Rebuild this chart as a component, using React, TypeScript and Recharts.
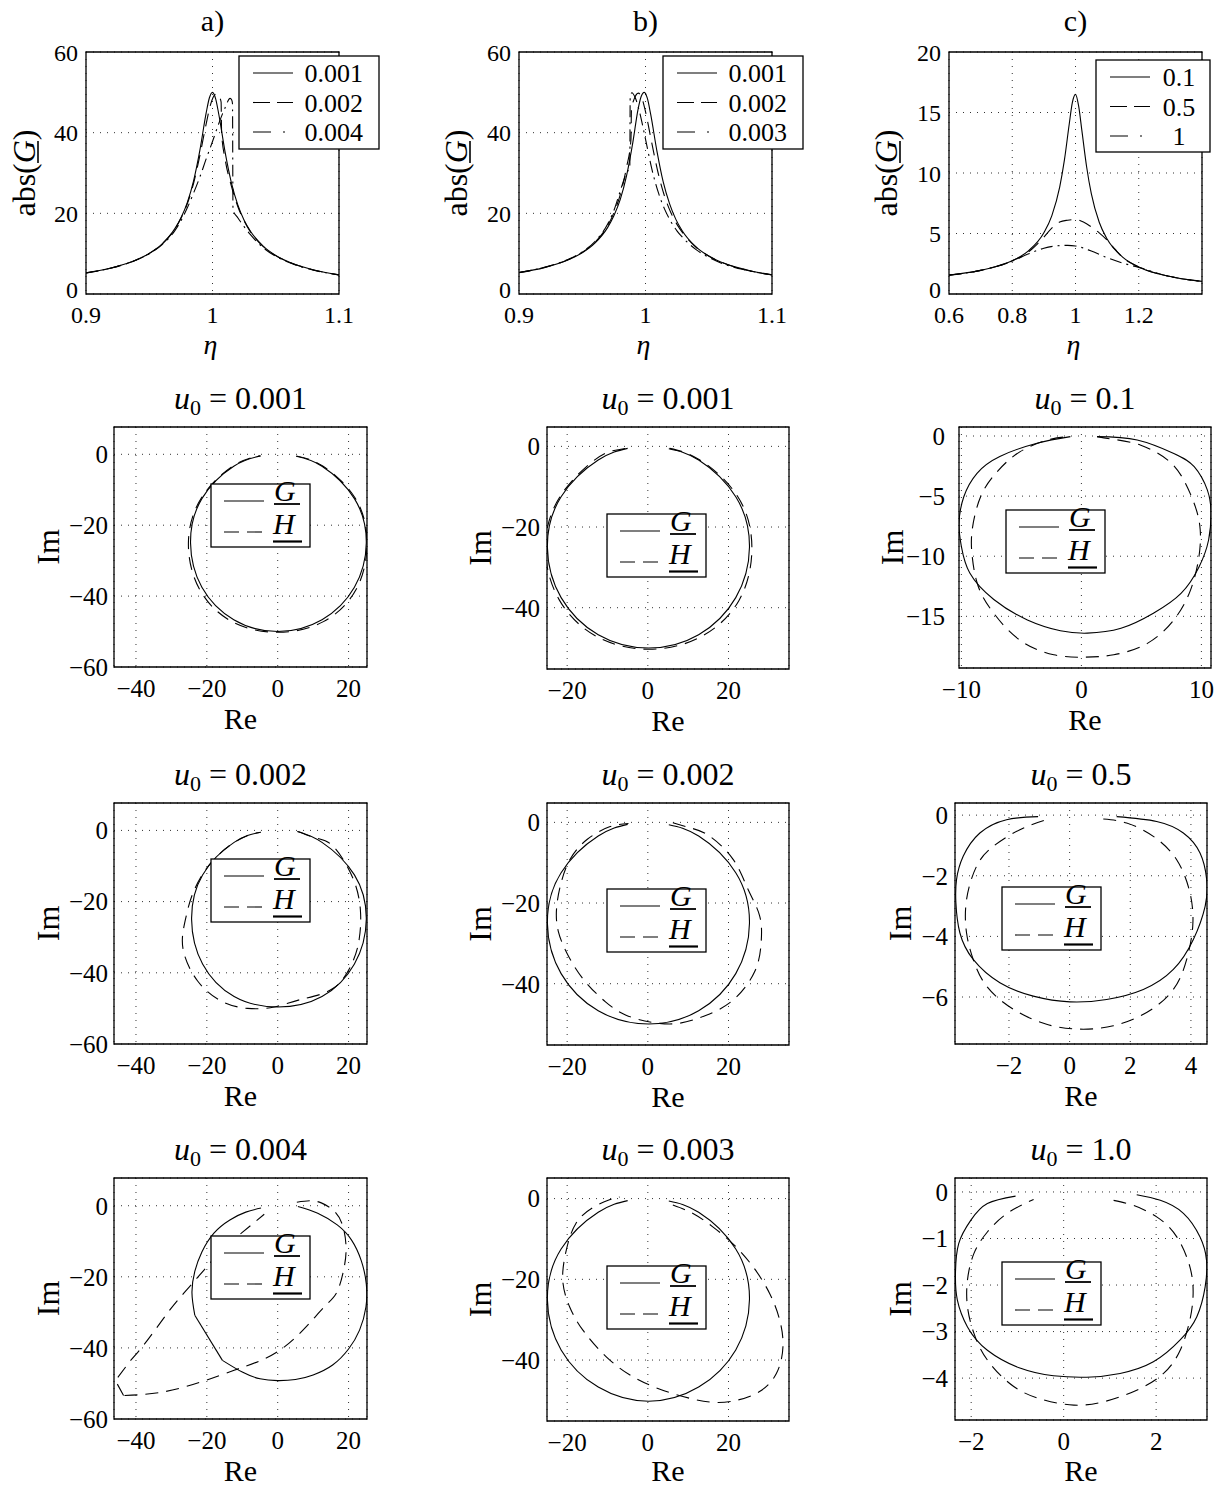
import React from 'react';
import { LineChart, Line, XAxis, YAxis, CartesianGrid, ReferenceArea } from 'recharts';

type Pt = [number, number];
type CurveKind = 'natural' | 'monotone' | 'linear';

/* ---------- amplitude response abs(G) over eta ---------- */
// column a: u0 = 0.001 / 0.002 / 0.004
const absA_001: Pt[] = [[0.9,5.24],[0.92,6.46],[0.94,8.48],[0.95,10.07],[0.96,12.39],[0.97,16.08],[0.975,18.84],[0.98,22.6],[0.985,28.0],[0.99,35.6],[0.995,44.9],[0.9975,48.6],[1.0,50.0],[1.0025,48.4],[1.005,44.5],[1.01,35.1],[1.015,27.5],[1.02,22.1],[1.025,18.3],[1.03,15.55],[1.04,11.87],[1.05,9.56],[1.06,7.97],[1.08,5.96],[1.1,4.74]];
const absA_002: Pt[] = [[0.9,5.24],[0.92,6.46],[0.94,8.47],[0.95,10.05],[0.96,12.35],[0.97,15.98],[0.975,18.7],[0.98,22.3],[0.985,27.4],[0.99,34.3],[0.995,42.2],[0.9985,47.0],[1.0015,49.3],[1.0035,49.7],[1.0055,48.8],[1.0068,47.6],[1.0072,39.8],[1.01,33.4],[1.015,26.7],[1.02,21.7],[1.025,18.1],[1.03,15.4],[1.04,11.8],[1.05,9.52],[1.06,7.95],[1.08,5.95],[1.1,4.74]];
const absA_004: Pt[] = [[0.9,5.23],[0.92,6.44],[0.94,8.43],[0.95,9.98],[0.96,12.2],[0.97,15.6],[0.975,18.1],[0.98,21.3],[0.985,25.0],[0.99,29.0],[0.995,33.5],[1.0,37.8],[1.005,42.3],[1.01,46.2],[1.0139,48.5],[1.0152,48.1],[1.0158,47.2],[1.0162,20.9],[1.02,18.9],[1.025,16.7],[1.03,14.7],[1.04,11.5],[1.05,9.35],[1.06,7.85],[1.08,5.9],[1.1,4.72]];
// column b: u0 = 0.001 / 0.002 / 0.003
const absB_001: Pt[] = [[0.9,5.3],[0.92,6.54],[0.94,8.6],[0.95,10.23],[0.96,12.62],[0.97,16.46],[0.975,19.4],[0.98,23.4],[0.985,29.3],[0.99,37.6],[0.994,45.6],[0.9965,48.9],[0.999,50.0],[1.0015,48.5],[1.004,44.7],[1.009,35.5],[1.014,27.8],[1.019,22.4],[1.024,18.5],[1.029,15.7],[1.039,11.95],[1.049,9.6],[1.059,8.0],[1.08,5.97],[1.1,4.75]];
const absB_002: Pt[] = [[0.9,5.32],[0.92,6.58],[0.94,8.67],[0.95,10.33],[0.96,12.8],[0.97,16.9],[0.975,20.1],[0.98,24.6],[0.985,31.4],[0.9885,38.3],[0.9889,45.6],[0.991,48.3],[0.9944,49.8],[0.997,48.7],[1.0,45.2],[1.005,37.4],[1.01,30.0],[1.015,24.3],[1.02,20.2],[1.025,17.2],[1.03,14.9],[1.04,11.6],[1.05,9.4],[1.06,7.87],[1.08,5.92],[1.1,4.73]];
const absB_003: Pt[] = [[0.9,5.34],[0.92,6.62],[0.94,8.75],[0.95,10.45],[0.96,13.0],[0.97,17.3],[0.975,20.7],[0.98,25.5],[0.985,30.0],[0.9876,31.5],[0.9879,48.8],[0.9892,49.9],[0.992,48.6],[0.995,45.5],[1.0,38.4],[1.005,31.0],[1.01,25.3],[1.015,21.1],[1.02,18.0],[1.025,15.6],[1.03,13.8],[1.04,11.0],[1.05,9.1],[1.06,7.65],[1.08,5.87],[1.1,4.71]];
// column c: u0 = 0.1 / 0.5 / 1
const absC_01: Pt[] = [[0.6,1.56],[0.7,1.95],[0.75,2.27],[0.8,2.75],[0.85,3.54],[0.9,5.06],[0.925,6.46],[0.95,8.83],[0.965,11.08],[0.98,14.01],[0.99,15.82],[1.0,16.5],[1.01,15.52],[1.02,13.54],[1.035,10.54],[1.05,8.29],[1.075,5.93],[1.1,4.54],[1.15,3.03],[1.2,2.24],[1.3,1.44],[1.4,1.04]];
const absC_05: Pt[] = [[0.6,1.56],[0.7,1.95],[0.8,2.74],[0.85,3.45],[0.88,4.15],[0.9,4.7],[0.925,5.45],[0.95,5.95],[0.975,6.1],[1.0,6.15],[1.025,5.95],[1.05,5.55],[1.075,5.05],[1.1,4.45],[1.125,3.7],[1.15,3.0],[1.2,2.24],[1.3,1.44],[1.4,1.04]];
const absC_1: Pt[] = [[0.6,1.56],[0.7,1.95],[0.8,2.72],[0.85,3.3],[0.9,3.78],[0.95,4.0],[0.975,4.02],[1.0,3.97],[1.05,3.55],[1.1,3.0],[1.15,2.55],[1.2,2.2],[1.3,1.43],[1.4,1.04]];

const legendA = ['0.001', '0.002', '0.004'];
const legendB = ['0.001', '0.002', '0.003'];
const legendC = ['0.1', '0.5', '1'];

/* ---------- Nyquist loci (Re, Im) of G and H ---------- */
// column a
const gA1: Pt[] = [[5.2,-0.55],[12.5,-3.35],[21.65,-12.5],[25,-25],[21.65,-37.5],[12.5,-46.65],[0,-50],[-12.4,-46.65],[-21.4,-37.5],[-24.6,-25],[-21.4,-12.5],[-12.4,-3.35],[-4.77,-0.45]];
const hA1: Pt[] = [[5.3,-0.5],[12.7,-3.3],[21.9,-12.4],[25.2,-25],[22.2,-38.0],[12.9,-47.2],[0,-50.2],[-12.9,-47.2],[-22.1,-38.0],[-25.2,-25],[-21.6,-12.4],[-12.6,-3.3],[-5.0,-0.4]];
const gA2: Pt[] = [[5.5,-0.3],[12.5,-3.35],[21.65,-12.5],[25,-25],[21.65,-37.5],[12.5,-46.65],[0,-49.6],[-12.3,-46.65],[-21.2,-37.5],[-24.3,-25],[-21.2,-12.5],[-12.3,-3.35],[-4.8,-0.5]];
const hA2: Pt[] = [[5.8,-0.3],[11.0,-2.2],[15.9,-4.7],[21.5,-14.1],[23.4,-23.5],[23.0,-30.5],[21.3,-36.6],[15.9,-44.2],[6.5,-47.5],[-1.0,-49.6],[-8.5,-50.0],[-16.0,-47.9],[-22.6,-42.3],[-26.4,-34.7],[-26.8,-29.1],[-25.9,-24.4],[-24.0,-17.8],[-19.8,-10.3],[-14.0,-4.6],[-8.5,-1.4],[-4.8,-0.5]];
const gA3a: Pt[] = [[5.7,-0.2],[11.3,-2.1],[16.8,-5.4],[20.8,-9.6],[23.6,-15.5],[25.0,-22.0],[24.9,-28.5],[23.1,-35.0],[20.0,-40.3],[15.5,-44.8],[10.0,-47.6],[5.0,-48.9],[0.0,-49.2],[-5.0,-48.7],[-10.0,-46.8],[-15.6,-43.5]];
const gA3b: Pt[] = [[-15.6,-43.5],[-23.4,-30.8]];
const gA3c: Pt[] = [[-23.4,-30.8],[-24.2,-24.5],[-23.4,-18.5],[-21.4,-13.0],[-18.0,-7.7],[-13.5,-4.0],[-9.0,-1.8],[-4.7,-0.65]];
const hA3a: Pt[] = [[5.4,1.0],[9.0,1.4],[12.3,0.8],[16.0,-1.6],[18.4,-5.8],[19.3,-12.4],[18.4,-19.0],[16.5,-24.7],[13.2,-28.4],[8.0,-34.1],[1.9,-39.7],[-4.7,-43.5],[-12.3,-46.3],[-21.7,-49.6],[-33.0,-52.5],[-43.5,-53.4]];
const hA3b: Pt[] = [[-43.5,-53.4],[-45.8,-49.2],[-41.5,-43.5]];
const hA3c: Pt[] = [[-41.5,-43.5],[-36.8,-37.9],[-31.2,-30.3],[-26.5,-24.6],[-20.8,-18.1],[-15.5,-12.2],[-10.0,-7.5],[-3.8,-2.4]];
// column b
const gB1: Pt[] = [[5.2,-0.6],[12.6,-3.4],[21.8,-12.5],[25.2,-25],[21.8,-37.5],[12.6,-46.7],[0.2,-50],[-12.3,-46.7],[-21.5,-37.5],[-24.9,-25],[-21.5,-12.5],[-12.3,-3.4],[-5.0,-0.5]];
const hB1: Pt[] = [[5.4,-0.5],[12.8,-3.3],[22.2,-12.3],[25.8,-25],[22.6,-38.2],[13.0,-47.3],[0.2,-50.3],[-12.6,-47.2],[-22.0,-38.0],[-25.4,-25],[-21.8,-12.5],[-13.5,-3.6],[-8.7,-1.1],[-4.8,-0.4]];
const gB2: Pt[] = [[5.2,-0.6],[12.6,-3.4],[21.8,-12.5],[25.2,-25],[21.8,-37.5],[12.6,-46.7],[0.2,-50],[-12.3,-46.7],[-21.5,-37.5],[-24.9,-25],[-21.5,-12.5],[-12.3,-3.4],[-5.0,-0.5]];
const hB2: Pt[] = [[6.2,-0.1],[11.0,-1.5],[15.3,-3.4],[21.1,-9.1],[24.8,-16.5],[27.7,-23.1],[28.1,-29.7],[26.5,-37.0],[21.1,-44.1],[14.5,-47.8],[7.9,-49.8],[1.2,-49.6],[-5.4,-47.8],[-10.5,-44.5],[-15.5,-39.5],[-19.5,-33.5],[-22.2,-27.0],[-22.6,-21.0],[-21.5,-15.0],[-19.2,-9.0],[-15.0,-4.2],[-9.5,-1.1],[-4.8,-0.3]];
const gB3: Pt[] = [[5.2,-0.6],[12.6,-3.4],[21.8,-12.5],[25.2,-25],[21.8,-37.5],[12.6,-46.7],[0.2,-50.2],[-12.3,-46.7],[-21.5,-37.5],[-24.9,-25],[-21.5,-12.5],[-12.3,-3.4],[-5.0,-0.5]];
const hB3: Pt[] = [[6.2,-1.6],[11.2,-3.7],[16.1,-7.0],[21.1,-11.2],[26.1,-16.9],[30.2,-23.5],[32.7,-30.1],[33.5,-36.7],[31.9,-43.3],[27.7,-47.8],[21.9,-50.0],[15.3,-50.4],[6.2,-48.3],[-2.9,-44.6],[-10.3,-39.2],[-16.1,-32.6],[-19.4,-26.8],[-21.1,-20.2],[-20.2,-12.7],[-17.8,-6.1],[-13.6,-2.2],[-9.5,-0.3],[-7.0,0.4]];
// column c
const gC1: Pt[] = [[1.3,-0.05],[4.65,-0.33],[7.7,-1.45],[9.4,-2.55],[10.5,-4.5],[10.8,-6.4],[10.6,-8.65],[9.8,-10.9],[8.3,-13.1],[6.0,-14.75],[3.3,-16.0],[0.5,-16.4],[-1.75,-16.2],[-4.5,-15.3],[-7.3,-13.6],[-9.3,-11.4],[-10.0,-9.2],[-10.2,-7.3],[-9.8,-5.05],[-8.7,-3.1],[-6.8,-1.7],[-3.7,-0.6],[-0.92,-0.05]];
const hC1: Pt[] = [[1.3,-0.05],[2.7,-0.28],[4.9,-0.75],[7.2,-2.0],[8.55,-3.7],[9.5,-5.9],[9.9,-7.8],[9.8,-10.0],[9.1,-12.8],[7.7,-15.3],[5.5,-17.25],[2.7,-18.2],[0.2,-18.4],[-2.3,-18.2],[-5.1,-17.0],[-7.3,-14.75],[-8.6,-12.5],[-9.1,-10.0],[-9.1,-7.8],[-8.4,-5.05],[-7.05,-3.0],[-5.1,-1.3],[-2.6,-0.28],[-0.9,-0.05]];
const gC2: Pt[] = [[1.55,-0.05],[2.87,-0.21],[3.75,-0.59],[4.3,-1.25],[4.52,-2.13],[4.47,-3.0],[4.08,-4.1],[3.42,-5.09],[2.43,-5.75],[1.22,-6.08],[0.01,-6.16],[-1.2,-5.97],[-2.3,-5.53],[-3.18,-4.76],[-3.62,-3.88],[-3.75,-2.9],[-3.73,-2.13],[-3.51,-1.36],[-2.96,-0.59],[-2.08,-0.15],[-1.04,-0.05]];
const hC2: Pt[] = [[1.11,-0.13],[1.88,-0.26],[2.76,-0.7],[3.53,-1.47],[3.97,-2.57],[4.06,-3.66],[3.86,-4.76],[3.42,-5.75],[2.54,-6.51],[1.44,-6.95],[0.34,-7.06],[-0.76,-6.9],[-1.86,-6.4],[-2.74,-5.64],[-3.18,-4.76],[-3.4,-3.88],[-3.4,-2.79],[-3.07,-1.69],[-2.52,-1.03],[-1.64,-0.48],[-0.76,-0.15]];
const gC3: Pt[] = [[1.58,-0.06],[2.09,-0.18],[2.59,-0.46],[2.95,-0.97],[3.09,-1.47],[3.06,-2.04],[2.88,-2.68],[2.52,-3.18],[1.94,-3.65],[1.22,-3.9],[0.5,-3.98],[-0.22,-3.95],[-0.93,-3.79],[-1.65,-3.4],[-2.08,-2.9],[-2.3,-2.32],[-2.34,-1.75],[-2.27,-1.11],[-2.01,-0.61],[-1.65,-0.25],[-1.04,-0.09]];
const hC3: Pt[] = [[1.08,-0.18],[1.51,-0.29],[2.02,-0.54],[2.45,-0.97],[2.73,-1.61],[2.8,-2.18],[2.73,-2.75],[2.52,-3.4],[2.16,-3.9],[1.58,-4.26],[0.86,-4.51],[0.22,-4.58],[-0.43,-4.47],[-1.08,-4.18],[-1.65,-3.61],[-1.94,-3.04],[-2.08,-2.47],[-2.08,-1.89],[-1.94,-1.32],[-1.65,-0.86],[-1.22,-0.46],[-0.65,-0.16]];

/* ---------- ticks and titles ---------- */
const etaTicksAB = [0.9, 1, 1.1];
const absTicksAB = [0, 20, 40, 60];
const etaTicksC = [0.6, 0.8, 1, 1.2];
const absTicksC = [0, 5, 10, 15, 20];
const reTicksA = [-40, -20, 0, 20];
const imTicksA = [-60, -40, -20, 0];
const reTicksB = [-20, 0, 20];
const imTicksB = [-40, -20, 0];
const reTicksC1 = [-10, 0, 10];
const imTicksC1 = [-15, -10, -5, 0];
const reTicksC2 = [-2, 0, 2, 4];
const imTicksC2 = [-6, -4, -2, 0];
const reTicksC3 = [-2, 0, 2];
const imTicksC3 = [-4, -3, -2, -1, 0];
const u0Labels = ['0.001', '0.001', '0.1', '0.002', '0.002', '0.5', '0.004', '0.003', '1.0'];

/* ---------- styling ---------- */
const SERIF = '"Liberation Serif", "Times New Roman", serif';
const DASH = '13 8';
const DASHDOT = '12 5 2 5';
const fmt = (v: number) => (v < 0 ? '\u2212' + String(Math.abs(v)) : String(v));
const rows = (pts: Pt[]) => pts.map(([x, y]) => ({ x, y }));

interface Series { pts: Pt[]; dash?: string; curve?: CurveKind }
interface PanelSpec {
  frame: [number, number, number, number];
  xDomain: [number, number];
  yDomain: [number, number];
  xTicks: number[];
  yTicks: number[];
  series: Series[];
  xGap: number;
  yGap: number;
  tickSize: number;
  liftLowest?: boolean;
}

// y tick label; the lowest label can be lifted a little so it clears the first x label
function YTick(props: any) {
  const { x, y, payload, fontSize, lift } = props;
  const v = payload.value as number;
  const shift = lift !== undefined && v === lift ? -5 : 0;
  return (
    <text x={x} y={y + shift} dy="0.355em" textAnchor="end" fontSize={fontSize} fontFamily={SERIF} fill="#000">
      {fmt(v)}
    </text>
  );
}

const PL = 90, PR = 30, PT = 12, PB = 56;

function Panel({ spec }: { spec: PanelSpec }) {
  const [fx, fy, fw, fh] = spec.frame;
  const tickStyle = { fontSize: spec.tickSize, fill: '#000', fontFamily: SERIF };
  const lift = spec.liftLowest ? spec.yDomain[0] : undefined;
  return (
    <div style={{ position: 'absolute', left: fx - PL, top: fy - PT }}>
      <LineChart width={fw + PL + PR} height={fh + PT + PB} margin={{ top: PT, right: PR, bottom: 0, left: 0 }}>
        <CartesianGrid stroke="#333" strokeWidth={1} strokeDasharray="1 6" />
        <XAxis type="number" dataKey="x" domain={spec.xDomain} ticks={spec.xTicks} allowDataOverflow interval={0}
          height={PB} axisLine={false} tickLine={false} tickSize={6} tickMargin={spec.xGap} tick={tickStyle} tickFormatter={fmt} />
        <YAxis type="number" domain={spec.yDomain} ticks={spec.yTicks} allowDataOverflow interval={0}
          width={PL} axisLine={false} tickLine={false} tickSize={6} tickMargin={spec.yGap}
          tick={(p: any) => <YTick {...p} fontSize={spec.tickSize} lift={lift} />} />
        {spec.series.map((s, i) => (
          <Line key={i} data={rows(s.pts)} dataKey="y" type={s.curve ?? 'natural'} stroke="#000" strokeWidth={1.1}
            strokeDasharray={s.dash} dot={false} activeDot={false} isAnimationActive={false} />
        ))}
        <ReferenceArea x1={spec.xDomain[0]} x2={spec.xDomain[1]} y1={spec.yDomain[0]} y2={spec.yDomain[1]}
          fill="none" fillOpacity={0} stroke="#000" strokeWidth={1.3} ifOverflow="visible" />
      </LineChart>
    </div>
  );
}

const ampPanels: PanelSpec[] = [
  { frame: [86, 52, 253, 242], xDomain: [0.9, 1.1], yDomain: [0, 60], xTicks: etaTicksAB, yTicks: absTicksAB, xGap: 6, yGap: 2, tickSize: 24, liftLowest: true,
    series: [{ pts: absA_001, curve: 'monotone' }, { pts: absA_002, dash: DASH, curve: 'monotone' }, { pts: absA_004, dash: DASHDOT, curve: 'monotone' }] },
  { frame: [519, 52, 253, 242], xDomain: [0.9, 1.1], yDomain: [0, 60], xTicks: etaTicksAB, yTicks: absTicksAB, xGap: 6, yGap: 2, tickSize: 24, liftLowest: true,
    series: [{ pts: absB_001, curve: 'monotone' }, { pts: absB_002, dash: DASH, curve: 'monotone' }, { pts: absB_003, dash: DASHDOT, curve: 'monotone' }] },
  { frame: [949, 52, 253, 242], xDomain: [0.6, 1.4], yDomain: [0, 20], xTicks: etaTicksC, yTicks: absTicksC, xGap: 6, yGap: 2, tickSize: 24, liftLowest: true,
    series: [{ pts: absC_01, curve: 'monotone' }, { pts: absC_05, dash: DASH, curve: 'monotone' }, { pts: absC_1, dash: DASHDOT, curve: 'monotone' }] },
];

const nyqPanels: (PanelSpec & { imX: number })[] = [
  { frame: [114, 427, 253, 240], xDomain: [-46.2, 25.2], yDomain: [-60, 7.7], xTicks: reTicksA, yTicks: imTicksA, xGap: 6, yGap: 0, tickSize: 25, imX: 59,
    series: [{ pts: gA1 }, { pts: hA1, dash: DASH }] },
  { frame: [547, 427, 242, 242], xDomain: [-25, 35], yDomain: [-55.2, 4.8], xTicks: reTicksB, yTicks: imTicksB, xGap: 6, yGap: 1, tickSize: 25, imX: 491,
    series: [{ pts: gB1 }, { pts: hB1, dash: DASH }] },
  { frame: [959, 427, 252, 241], xDomain: [-10.2, 10.8], yDomain: [-19.3, 0.75], xTicks: reTicksC1, yTicks: imTicksC1, xGap: 6, yGap: 8, tickSize: 25, imX: 903,
    series: [{ pts: gC1 }, { pts: hC1, dash: DASH }] },
  { frame: [114, 803, 253, 241], xDomain: [-46.2, 25.2], yDomain: [-60, 7.7], xTicks: reTicksA, yTicks: imTicksA, xGap: 6, yGap: 0, tickSize: 25, imX: 59,
    series: [{ pts: gA2 }, { pts: hA2, dash: DASH }] },
  { frame: [547, 803, 242, 242], xDomain: [-25, 35], yDomain: [-55.2, 4.8], xTicks: reTicksB, yTicks: imTicksB, xGap: 6, yGap: 1, tickSize: 25, imX: 491,
    series: [{ pts: gB2 }, { pts: hB2, dash: DASH }] },
  { frame: [955, 803, 252, 241], xDomain: [-3.78, 4.53], yDomain: [-7.55, 0.4], xTicks: reTicksC2, yTicks: imTicksC2, xGap: 6, yGap: 1, tickSize: 25, imX: 911,
    series: [{ pts: gC2 }, { pts: hC2, dash: DASH }] },
  { frame: [114, 1178, 253, 241], xDomain: [-46.2, 25.2], yDomain: [-60, 7.8], xTicks: reTicksA, yTicks: imTicksA, xGap: 6, yGap: 0, tickSize: 25, imX: 59,
    series: [{ pts: gA3a }, { pts: gA3b, curve: 'linear' }, { pts: gA3c },
      { pts: hA3a, dash: DASH }, { pts: hA3b, dash: DASH, curve: 'linear' }, { pts: hA3c, dash: DASH }] },
  { frame: [547, 1178, 242, 243], xDomain: [-25, 35], yDomain: [-55.1, 5.1], xTicks: reTicksB, yTicks: imTicksB, xGap: 6, yGap: 1, tickSize: 25, imX: 491,
    series: [{ pts: gB3 }, { pts: hB3, dash: DASH }] },
  { frame: [955, 1178, 252, 242], xDomain: [-2.35, 3.1], yDomain: [-4.9, 0.3], xTicks: reTicksC3, yTicks: imTicksC3, xGap: 6, yGap: 1, tickSize: 25, imX: 911,
    series: [{ pts: gC3 }, { pts: hC3, dash: DASH }] },
];

const nyqLegendPos: [number, number][] = [
  [211, 484], [607, 514], [1006, 510],
  [211, 859], [607, 889], [1002, 887],
  [211, 1236], [607, 1266], [1002, 1262],
];

const ampTitles = ['a)', 'b)', 'c)'];
const ampLegendBoxes: { x: number; y: number; w: number; h: number; labels: string[]; anchor: 'end' | 'middle'; tx: number }[] = [
  { x: 239, y: 56, w: 140, h: 93, labels: legendA, anchor: 'end', tx: 124 },
  { x: 663, y: 56, w: 140, h: 93, labels: legendB, anchor: 'end', tx: 124 },
  { x: 1096, y: 60, w: 114, h: 92, labels: legendC, anchor: 'middle', tx: 83 },
];
const legendDashes = [undefined, '17 7', '18 12 2 12'];

function AmpLegend({ x, y, w, h, labels, anchor, tx }: typeof ampLegendBoxes[number]) {
  return (
    <g>
      <rect x={x} y={y} width={w} height={h} fill="#fff" stroke="#000" strokeWidth={1.3} />
      {labels.map((lab, i) => (
        <g key={lab}>
          <line x1={x + 14} x2={x + 54} y1={y + 17 + i * 29.5} y2={y + 17 + i * 29.5} stroke="#000" strokeWidth={1.1} strokeDasharray={legendDashes[i]} />
          <text x={x + tx} y={y + 26 + i * 29.5} textAnchor={anchor} fontSize={26} fontFamily={SERIF} fill="#000">{lab}</text>
        </g>
      ))}
    </g>
  );
}

function NyqLegend({ x, y }: { x: number; y: number }) {
  return (
    <g>
      <rect x={x} y={y} width={99} height={63} fill="#fff" stroke="#000" strokeWidth={1.3} />
      <line x1={x + 13} x2={x + 53} y1={y + 17} y2={y + 17} stroke="#000" strokeWidth={1.1} />
      <text x={x + 63} y={y + 17} fontSize={30} fontStyle="italic" fontFamily={SERIF} fill="#000">G</text>
      <line x1={x + 63} x2={x + 89} y1={y + 20} y2={y + 20} stroke="#000" strokeWidth={1.8} />
      <line x1={x + 13} x2={x + 53} y1={y + 48} y2={y + 48} stroke="#000" strokeWidth={1.1} strokeDasharray="15 8" />
      <text x={x + 62} y={y + 50} fontSize={30} fontStyle="italic" fontFamily={SERIF} fill="#000">H</text>
      <line x1={x + 62} x2={x + 91} y1={y + 57.5} y2={y + 57.5} stroke="#000" strokeWidth={2.2} />
    </g>
  );
}

const absLabelX = [35, 467, 897];

export default function App() {
  return (
    <div style={{ position: 'absolute', left: 0, top: 0, width: 1218, height: 1486, background: '#fff', overflow: 'hidden' }}>
      {ampPanels.map((p, i) => <Panel key={'amp' + i} spec={p} />)}
      {nyqPanels.map((p, i) => <Panel key={'nyq' + i} spec={p} />)}
      <svg width={1218} height={1486} style={{ position: 'absolute', left: 0, top: 0, pointerEvents: 'none' }}>
        {ampPanels.map((p, i) => {
          const [fx, fy, fw, fh] = p.frame;
          const cx = fx + fw / 2;
          const cy = fy + fh / 2;
          return (
            <g key={'al' + i}>
              <text x={cx} y={31} textAnchor="middle" fontSize={30} fontFamily={SERIF} fill="#000">{ampTitles[i]}</text>
              <text x={cx - 2} y={354} textAnchor="middle" fontSize={28} fontStyle="italic" fontFamily={SERIF} fill="#000">η</text>
              <g transform={`translate(${absLabelX[i]},${cy}) rotate(-90)`}>
                <text x={0} y={0} textAnchor="middle" fontSize={32} fontFamily={SERIF} fill="#000">
                  abs(<tspan fontStyle="italic">G</tspan>)
                </text>
                <line x1={10} x2={32} y1={3} y2={3} stroke="#000" strokeWidth={1.6} />
              </g>
              <AmpLegend {...ampLegendBoxes[i]} />
            </g>
          );
        })}
        {nyqPanels.map((p, i) => {
          const [fx, fy, fw, fh] = p.frame;
          const cx = fx + fw / 2;
          const cy = fy + fh / 2;
          return (
            <g key={'nl' + i}>
              <text x={cx} y={fy - 18} textAnchor="middle" fontSize={32} fontFamily={SERIF} fill="#000" style={{ whiteSpace: 'pre' }}>
                <tspan fontStyle="italic">u</tspan>
                <tspan fontSize={22} dy={6}>0</tspan>
                <tspan dy={-6}>{' = ' + u0Labels[i]}</tspan>
              </text>
              <text x={cx} y={Math.min(fy + fh + 62, 1481)} textAnchor="middle" fontSize={30} fontFamily={SERIF} fill="#000">Re</text>
              <g transform={`translate(${p.imX},${cy}) rotate(-90)`}>
                <text x={0} y={0} textAnchor="middle" fontSize={32} fontFamily={SERIF} fill="#000">Im</text>
              </g>
              <NyqLegend x={nyqLegendPos[i][0]} y={nyqLegendPos[i][1]} />
            </g>
          );
        })}
      </svg>
    </div>
  );
}
